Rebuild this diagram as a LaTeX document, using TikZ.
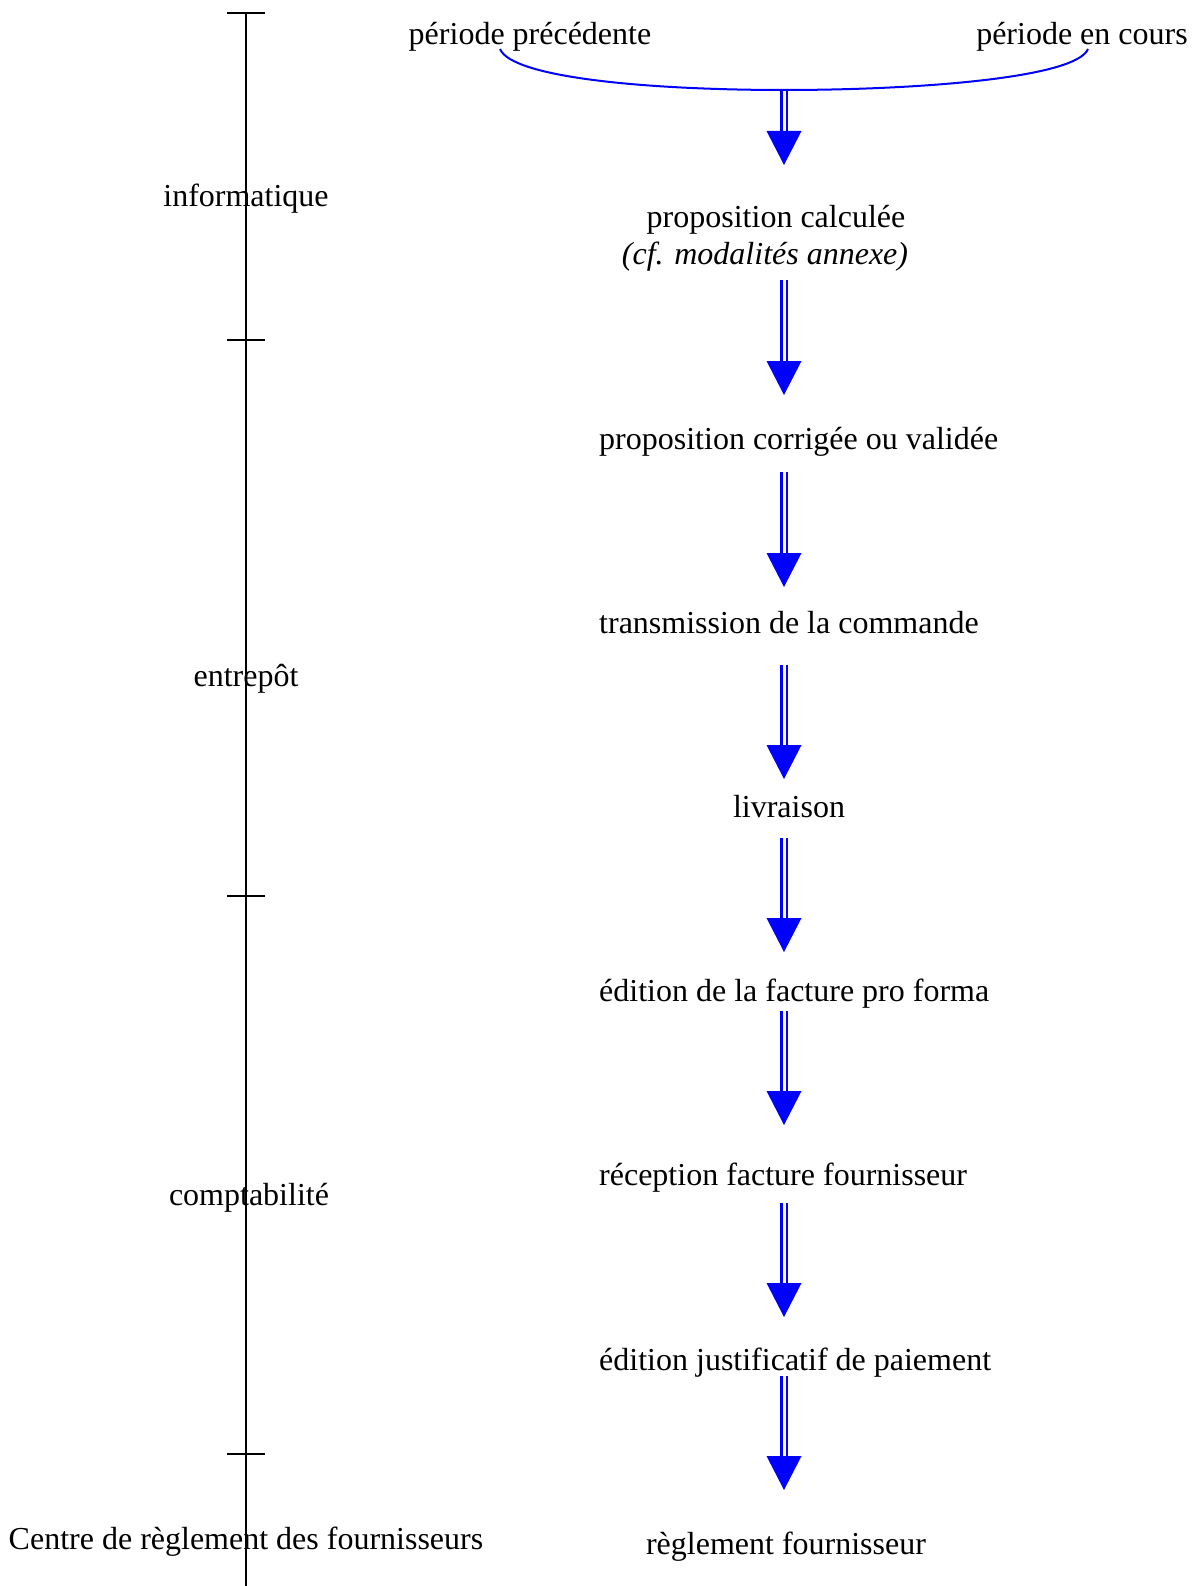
\documentclass[tikz,border=0pt]{standalone}
\usepackage{fontspec}
\setmainfont{Liberation Serif}
\begin{document}
\begin{tikzpicture}[x=1pt,y=-1pt,
  lbl/.style={inner sep=0pt, font=\fontsize{32pt}{38pt}\selectfont},
  axisline/.style={black, line width=1.6pt},
  shaft/.style={blue, line width=2.1pt, double=white, double distance=3pt},
  brace/.style={blue, line width=2pt}]
\useasboundingbox (0,0) rectangle (1197,1586);
% axis
\draw[axisline] (246,13) coordinate (atop) -- (246,1586) coordinate (abot);
\foreach \y/\n in {13/t1,340/t2,896/t3,1454/t4}{
  \draw[axisline] (227,\y) coordinate (\n l) -- (265,\y) coordinate (\n r);
}
\node[lbl] (info) at (246,199) {informatique};
\node[lbl] (entr) at (246,679) {entrepôt};
\node[lbl] (compt) at (249,1198) {comptabilité};
\node[lbl] (centre) at (246,1542) {Centre de règlement des fournisseurs};
% top labels
\node[lbl] (prec) at (530,37) {période précédente};
\node[lbl] (cours) at (1082,37) {période en cours};
\coordinate (bl) at (500,49);
\coordinate (bm) at (784,90);
\coordinate (br) at (1088,49);
\draw[brace] (bl) .. controls (512,78) and (650,90) .. (bm) .. controls (918,90) and (1076,78) .. (br);
% process steps
\node[lbl] (calc) at (776,220) {proposition calculée};
\node[lbl] (cf) at (765,257) {\itshape (cf. modalités annexe)};
\node[lbl, anchor=west] (corr) at (599,442) {proposition corrigée ou validée};
\node[lbl, anchor=west] (trans) at (599,623) {transmission de la commande};
\node[lbl] (livr) at (789,807) {livraison};
\node[lbl, anchor=west] (edit) at (599,994) {édition de la facture pro forma};
\node[lbl, anchor=west] (recep) at (599,1178) {réception facture fournisseur};
\node[lbl, anchor=west] (just) at (599,1363) {édition justificatif de paiement};
\node[lbl] (regl) at (786,1547) {règlement fournisseur};
% arrows
\foreach \i/\a/\b in {1/91/165,2/280/395,3/472/587,4/665/779,5/838/952,6/1011/1125,7/1203/1317,8/1376/1490}{
  \coordinate (s\i) at (784,\a);
  \coordinate (e\i) at (784,\b);
  \draw[shaft] (s\i) -- ([yshift=30pt]e\i);
  \fill[blue] ([xshift=-17.5pt,yshift=34pt]e\i) -- ([xshift=17.5pt,yshift=34pt]e\i) -- (e\i) -- cycle;
}
\end{tikzpicture}
\end{document}
